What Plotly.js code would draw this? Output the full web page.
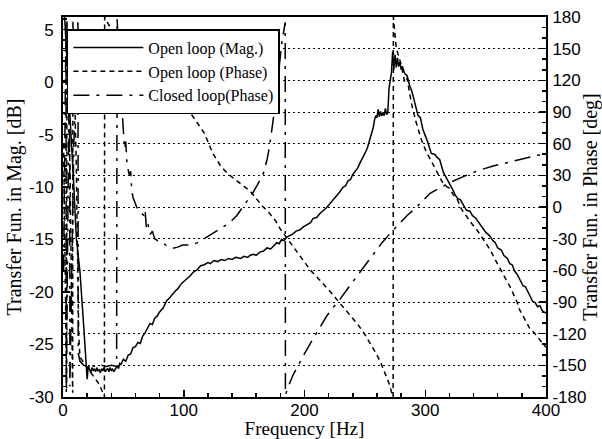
<!DOCTYPE html>
<html>
<head>
<meta charset="utf-8">
<script src="https://cdn.plot.ly/plotly-3.0.1.min.js"></script>
<style>html,body{margin:0;padding:0;background:#fff;}#chart{width:602px;height:439px;}</style>
</head>
<body>
<div id="chart"></div>
<script>
// ---- Data ----
const magFreq = [0.5,3,6,9,11,14,17,20,21,22,
  23,24,25,26,27,28,29,30,31,32,
  33,34,35,36,37,38,39,40,41,42,
  43,44,45,46,47,48,50,52,54,56,
  58,60,62,64,66,68,70,72,74,76,
  78,80,83,86,88,90,93,95,98,100,
  103,105,108,111,114,117,120,122,125,128,
  131,134,137,140,143,147,150,153,155,158,
  160,163,166,169,172,175,177,179,181,183,
  185,188,190,193,196,199,202,205,207,210,
  213,216,218,221,224,227,229,232,234,236,
  238,240,242,244,246,248,250,252,254,256,
  257,258,259,260,261,262,263,264,265,266,
  267,268,269,270,271,272,273,274,275,276,
  277,278,279,280,281,283,285,287,289,291,
  292,294,296,298,300,302,305,308,310,312,
  315,318,320,323,325,327,329,331,334,337,
  339,342,345,348,350,353,356,358,360,363,
  365,368,370,372,374,376,378,381,383,385,
  387,389,391,393,395,397,400];
const magDb = [8,3,-4,-10,-14.8,-18,-23,-28.3,-27.0,-27.3,
  -27.7,-27.2,-27.5,-27.3,-27.6,-27.2,-27.5,-27.4,-27.7,-27.3,
  -27.5,-27.2,-27.6,-27.4,-27.3,-27.6,-27.2,-27.5,-27.3,-27.6,
  -27.4,-27.2,-27.0,-27.3,-26.8,-26.9,-26.4,-26.6,-26.0,-25.9,
  -25.3,-25.2,-24.8,-24.9,-24.2,-23.9,-23.5,-23.0,-23.1,-22.5,
  -22.3,-21.9,-21.5,-20.8,-20.6,-20.3,-19.9,-19.7,-19.2,-19.0,
  -18.7,-18.5,-18.1,-17.9,-17.5,-17.4,-17.2,-17.3,-17.0,-17.1,
  -16.9,-17.0,-16.8,-16.9,-16.7,-16.8,-16.6,-16.7,-16.5,-16.4,
  -16.5,-16.2,-16.1,-15.8,-15.9,-15.5,-15.3,-15.4,-15.0,-15.1,
  -14.8,-14.6,-14.5,-14.2,-14.1,-13.8,-13.6,-13.4,-13.0,-12.9,
  -12.5,-12.2,-12.0,-11.6,-11.2,-10.8,-10.5,-10.0,-9.9,-9.4,
  -9.3,-8.8,-8.5,-8.2,-7.7,-7.3,-6.8,-6.3,-5.5,-4.9,
  -4.3,-3.6,-3.2,-3.4,-2.6,-3.3,-2.8,-3.2,-2.9,-3.2,
  -2.5,-3.1,-2.9,-0.6,0.2,0.9,2.9,1.2,2.6,1.4,
  2.3,1.5,1.9,1.2,1.5,0.8,0.6,-0.3,-0.9,-1.8,
  -2.1,-3.2,-3.4,-4.5,-5.1,-5.7,-6.8,-6.9,-7.2,-7.4,
  -8.6,-9.2,-9.6,-10.3,-10.8,-11.1,-11.2,-11.6,-12.2,-12.3,
  -12.7,-13.0,-13.5,-13.9,-14.3,-14.6,-15.1,-15.3,-15.8,-16.0,
  -16.5,-16.8,-17.3,-17.4,-18.0,-18.3,-18.8,-19.4,-19.5,-20.0,
  -20.4,-20.9,-21.0,-21.4,-21.3,-21.8,-22.0];

const olFreq = [0.5,3,3.3,6,8,8.2,11,13,14,16,
  18,20,22,25,28,30,33,34.3,
  34.5,37,40,45,50,60,70,80,90,95,
  100,105,111,117,124,131,137,144,150,155,
  160,165,171,176,180,185,190,195,200,205,
  210,216,222,227,233,238,244,249,254,259,
  263,267,270,272,273.4,273.6,275,276,278,280,
  283,285,287,289,292,294,297,301,304,308,
  312,315,318,320,323,327,330,334,338,343,
  348,354,358,362,366,370,373,376,378,381,
  384,387,390,393,395,398,400];
const olPhase = [60,-172,176,20,-176,176,40,-120,-142,-146,
  -149,-152,-155,-160,-164,-168,-176,-180,
  180,174,168,160,154,143,133,122,111,104,
  98,90,80,70,51,38,31,25,20,15,
  8,1,-6,-13,-21,-29,-37,-45,-52,-60,
  -66,-73,-81,-88,-96,-103,-111,-119,-128,-138,
  -147,-158,-167,-175,-180,180,162,150,143,135,
  118,122,108,96,82,74,63,52,46,37,
  28,22,19,18,12,6,-2,-9,-15,-22,
  -31,-41,-50,-59,-67,-75,-82,-90,-97,-103,
  -110,-116,-119,-123,-126,-130,-133];

const clFreq = [0.5,2.5,2.7,5.5,5.7,9,12.4,12.6,14,17,
  20,24,28,32,36,40,
  44.4,44.8,46,47,49,51,52,53,55,56,
  57,58,60,61,63,65,67,68,69,70,
  72,74,76,80,83,86,89,91,95,99,
  105,111,117,124,131,138,144,149,153,157,
  161,166,169,171,174,177,179,181,183,184,
  184.2,186,188,191,195,200,205,211,218,223,
  229,236,243,250,257,264,271,278,285,292,
  298,304,312,320,332,345,357,370,382,393,
  400];
const clPhase = [-60,176,-176,170,-170,60,178,-138,-146,-150,
  -151,-150,-152,-150,-151,-150,
  -151,178,150,125,90,55,62,40,30,34,
  15,9,2,0,-4,-6,-8,-3,-19,-14,
  -26,-23,-30,-33,-34,-37,-38,-39,-38,-36,
  -36,-34,-30,-25,-20,-15,-8,0,6,13,
  21,32,45,57,82,110,132,154,167,175,
  -178,-172,-166,-158,-149,-139,-129,-117,-104,-96,
  -88,-77,-66,-55,-44,-34,-25,-16,-8,-1,
  6,13,18,23,29,35,39,43,46,49,
  50];

const seriesNames = ['Open loop (Mag.)', 'Open loop (Phase)', 'Closed loop(Phase)'];
const xTickVals = [0, 100, 200, 300, 400];
const xTickText = ['0', '100', '200', '300', '400'];
const magTickVals = [-30, -25, -20, -15, -10, -5, 0, 5];
const magTickText = ['-30', '-25', '-20', '-15', '-10', '-5', '0', '5'];
const phTickVals = [-180, -150, -120, -90, -60, -30, 0, 30, 60, 90, 120, 150, 180];
const phTickText = ['-180', '-150', '-120', '-90', '-60', '-30', '0', '30', '60', '90', '120', '150', '180'];

// ---- Styling ----
const SANS = 'Liberation Sans, Arial, Helvetica, sans-serif';
const SERIF = 'Liberation Serif, Times New Roman, Times, serif';

// phase uses the main y axis (right side, carries the dotted grid);
// magnitude uses the overlaid y2 axis on the left
const traces = [
  {x: magFreq, y: magDb, name: seriesNames[0], type: 'scatter', mode: 'lines',
   line: {color: 'black', width: 1.5, dash: 'solid'}, yaxis: 'y2'},
  {x: olFreq, y: olPhase, name: seriesNames[1], type: 'scatter', mode: 'lines',
   line: {color: 'black', width: 1.5, dash: '5px,4px'}, yaxis: 'y'},
  {x: clFreq, y: clPhase, name: seriesNames[2], type: 'scatter', mode: 'lines',
   line: {color: 'black', width: 1.5, dash: '16px,7px,3px,7px'}, yaxis: 'y'}
];

const axisCommon = {
  ticks: 'inside', ticklen: 7, tickwidth: 1.5, tickcolor: 'black',
  showline: true, linecolor: 'black', linewidth: 2,
  zeroline: false, tickfont: {family: SANS, size: 17, color: 'black'},
  tickmode: 'array'
};

const layout = {
  width: 602, height: 439,
  margin: {l: 63, r: 56, t: 17, b: 42, pad: 0},
  paper_bgcolor: 'white', plot_bgcolor: 'white',
  showlegend: true,
  legend: {
    x: 0.008, y: 0.968, xanchor: 'left', yanchor: 'top',
    bgcolor: 'white', bordercolor: 'black', borderwidth: 1.5,
    font: {family: SERIF, size: 16, color: 'black'},
    itemwidth: 70, tracegroupgap: 0
  },
  xaxis: Object.assign({}, axisCommon, {
    range: [0, 400], tickvals: xTickVals, ticktext: xTickText,
    mirror: true, showgrid: false, ticklabelstandoff: -3,
    minor: {dtick: 20, ticks: 'inside', ticklen: 4, tickwidth: 1.5, tickcolor: 'black', showgrid: false},
    title: {text: 'Frequency [Hz]', font: {family: SERIF, size: 19, color: 'black'}, standoff: 0}
  }),
  yaxis: Object.assign({}, axisCommon, {
    range: [-180, 180], tickvals: phTickVals, ticktext: phTickText,
    side: 'right', ticklabelstandoff: 1,
    showgrid: true, gridcolor: 'black', gridwidth: 1, griddash: '2px,3px',
    minor: {dtick: 10, ticks: 'inside', ticklen: 4, tickwidth: 1.5, tickcolor: 'black', showgrid: false},
    title: {text: 'Transfer Fun. in Phase [deg]', font: {family: SERIF, size: 20, color: 'black'}, standoff: 2}
  }),
  yaxis2: Object.assign({}, axisCommon, {
    range: [-30, 6.2], tickvals: magTickVals, ticktext: magTickText,
    overlaying: 'y', side: 'left',
    showgrid: false, ticklabelstandoff: 4,
    minor: {dtick: 1, ticks: 'inside', ticklen: 4, tickwidth: 1.5, tickcolor: 'black', showgrid: false},
    title: {text: 'Transfer Fun. in Mag. [dB]', font: {family: SERIF, size: 20, color: 'black'}, standoff: 2}
  })
};

Plotly.newPlot('chart', traces, layout, {displayModeBar: false, staticPlot: true});
</script>
</body>
</html>
